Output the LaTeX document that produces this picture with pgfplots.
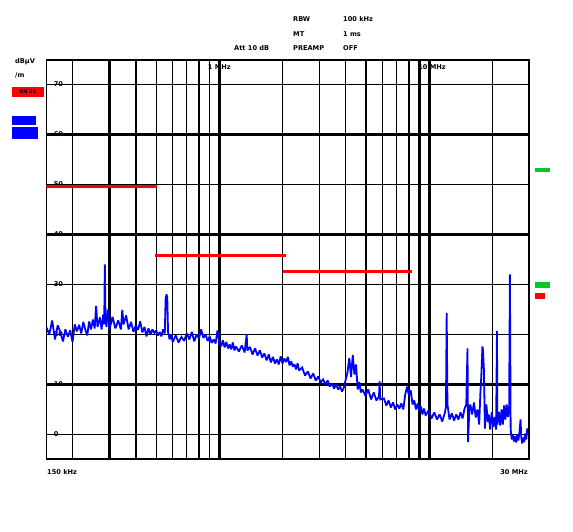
\documentclass[border=0pt]{standalone}
\usepackage{pgfplots}
\pgfplotsset{compat=1.18}
\usepackage{fontspec}
\setmainfont{DejaVu Sans}
\definecolor{trblue}{RGB}{0,0,255}
\definecolor{limred}{RGB}{255,0,0}
\definecolor{mkgreen}{RGB}{0,200,40}
\newcommand{\sm}{\fontsize{6.6}{6.6}\selectfont\bfseries}
\begin{document}
\begin{tikzpicture}
\path[use as bounding box] (-46.3pt,-72.5pt) rectangle (526.7pt,459.5pt);
\begin{axis}[
  at={(0pt,0pt)}, anchor=south west,
  scale only axis, width=483.2pt, height=400.2pt,
  xmode=log, xmin=0.15, xmax=30, ymin=-5, ymax=75,
  log basis x=10,
  xtick={0.2,0.3,0.4,0.5,0.6,0.7,0.8,0.9,1,2,3,4,5,6,7,8,9,10,20},
  xticklabels={},
  ytick={0,10,20,30,40,50,60,70},
  yticklabels={0,10,20,30,40,50,60,70},
  yticklabel style={anchor=west, xshift=4pt, font=\sm},
  major tick length=0pt,
  xmajorgrids, ymajorgrids,
  major grid style={black, line width=1.1pt},
  axis line style={black, line width=1.5pt},
  clip=true,
]
% heavier grid lines
\draw[black,line width=2.4pt] (axis cs:0.15,60) -- (axis cs:30,60);
\draw[black,line width=2.6pt] (axis cs:0.15,40) -- (axis cs:30,40);
\draw[black,line width=1.8pt] (axis cs:0.15,30) -- (axis cs:30,30);
\draw[black,line width=2.6pt] (axis cs:0.15,10) -- (axis cs:30,10);
\draw[black,line width=1.5pt] (axis cs:0.15,20) -- (axis cs:30,20);
\foreach \f/\w in {0.3/2.8pt,0.4/2pt,0.8/2.6pt,1/2.8pt,5/2.6pt,8/2.6pt,9/2.4pt,10/2.8pt} {
  \edef\tmp{\noexpand\draw[black,line width=\w] (axis cs:\f,-5) -- (axis cs:\f,75);}\tmp
}
% limit lines
\addplot[limred, line width=2.8pt] coordinates {(0.15,49.6) (0.505,49.6)};
\addplot[limred, line width=2.8pt] coordinates {(0.495,35.7) (2.08,35.7)};
\addplot[limred, line width=2.8pt] coordinates {(2.0,32.6) (8.25,32.6)};
% trace
\addplot[trblue, line width=1.8pt, line join=miter, miter limit=2] coordinates {
(0.150,21.5)(0.155,20.0)(0.160,22.8)(0.165,19.0)(0.170,21.8)(0.175,20.5)(0.180,18.6)(0.185,21.0)
(0.190,19.5)(0.195,20.8)(0.200,18.5)(0.205,22.0)(0.210,20.6)(0.215,21.9)(0.220,20.2)(0.225,22.5)
(0.230,21.0)(0.235,19.8)(0.240,22.6)(0.245,21.0)(0.250,23.0)(0.255,21.2)(0.259,25.7)(0.263,21.5)
(0.270,23.4)(0.275,21.0)(0.280,24.0)(0.283,22.0)(0.285,34.0)(0.287,23.5)(0.290,21.5)(0.295,25.0)
(0.300,21.0)(0.31,23.5)(0.32,21.2)(0.33,22.8)(0.34,21.0)(0.345,24.9)(0.35,22.0)(0.36,23.8)
(0.37,21.0)(0.38,22.5)(0.39,20.5)(0.40,21.8)(0.41,20.9)(0.42,22.6)(0.43,20.4)(0.44,21.5)
(0.45,19.6)(0.46,21.2)(0.47,20.0)(0.48,21.0)(0.49,20.3)(0.50,20.8)(0.51,19.8)(0.52,20.5)
(0.53,19.6)(0.54,21.0)(0.55,20.2)(0.555,27.0)(0.56,28.0)(0.565,27.5)(0.57,20.5)(0.58,19.0)
(0.59,20.0)(0.60,18.5)(0.62,19.8)(0.64,18.4)(0.66,19.5)(0.68,18.7)(0.70,20.2)(0.72,19.0)
(0.74,20.5)(0.76,18.6)(0.78,20.0)(0.80,19.2)(0.82,21.0)(0.84,19.3)(0.86,20.0)(0.88,18.7)
(0.90,19.6)(0.92,18.3)(0.94,19.0)(0.96,18.2)(0.98,20.8)(1.00,18.5)(1.02,17.6)(1.04,18.8)
(1.06,17.4)(1.08,18.5)(1.10,17.2)(1.12,18.0)(1.14,17.0)(1.16,18.4)(1.18,16.8)(1.20,17.6)
(1.24,16.6)(1.28,17.8)(1.32,16.4)(1.35,20.0)(1.36,16.8)(1.40,17.5)(1.44,16.0)(1.48,17.2)
(1.52,15.8)(1.56,16.8)(1.60,15.4)(1.64,16.2)(1.68,14.8)(1.72,16.0)(1.76,14.4)(1.80,15.5)
(1.84,14.2)(1.88,15.0)(1.92,14.0)(1.96,15.6)(2.00,14.2)(2.04,15.2)(2.08,14.5)(2.12,15.5)
(2.16,13.8)(2.20,14.6)(2.24,13.6)(2.28,14.0)(2.32,13.0)(2.36,14.2)(2.40,12.8)(2.48,13.4)
(2.56,11.8)(2.64,12.6)(2.72,11.2)(2.80,12.2)(2.88,10.8)(2.96,11.6)(3.04,10.4)(3.12,11.0)
(3.20,10.0)(3.28,10.8)(3.36,9.6)(3.44,10.2)(3.52,9.2)(3.60,10.0)(3.68,9.0)(3.76,9.6)
(3.84,8.6)(3.92,9.4)(4.00,11.0)(4.08,12.5)(4.16,15.3)(4.24,11.5)(4.32,15.9)(4.40,12.0)
(4.48,14.0)(4.56,9.0)(4.64,10.5)(4.72,8.4)(4.80,9.0)(4.96,7.8)(5.12,9.0)(5.28,7.0)
(5.44,8.4)(5.60,6.8)(5.76,7.6)(5.80,10.6)(5.84,7.0)(6.08,7.2)(6.24,5.8)(6.40,6.8)
(6.56,5.4)(6.72,6.4)(6.88,5.0)(7.04,6.0)(7.20,5.2)(7.36,6.2)(7.52,5.0)(7.68,8.0)
(7.84,9.6)(8.00,7.8)(8.16,8.8)(8.32,6.0)(8.48,6.8)(8.64,5.0)(8.80,6.2)(8.96,4.6)
(9.12,5.6)(9.28,4.0)(9.44,5.2)(9.60,3.8)(9.92,4.8)(10.24,3.2)(10.56,4.4)(10.88,3.0)
(11.20,4.0)(11.52,2.6)(11.84,4.2)(12.00,5.5)(12.10,24.3)(12.20,6.0)(12.48,3.0)(12.80,4.2)
(13.12,2.8)(13.44,4.0)(13.76,3.0)(14.08,4.4)(14.40,3.2)(14.72,5.2)(15.00,6.0)(15.20,17.2)
(15.30,-1.5)(15.50,4.8)(15.68,6.0)(16.00,4.0)(16.32,6.4)(16.64,3.4)(16.96,5.0)(17.28,2.0)
(17.50,8.0)(17.70,12.0)(17.90,17.6)(18.00,17.0)(18.20,13.0)(18.40,1.2)(18.70,6.0)(19.00,2.5)
(19.20,4.0)(19.50,1.0)(19.84,4.5)(20.16,1.5)(20.50,3.5)(20.80,1.0)(21.00,20.7)(21.10,2.0)
(21.44,4.5)(21.76,1.8)(22.08,5.0)(22.40,2.0)(22.72,5.8)(23.04,3.0)(23.36,6.0)(23.70,3.5)
(24.00,5.5)(24.20,32.0)(24.40,1.0)(24.70,-1.0)(25.00,0.0)(25.30,-1.4)(25.60,-0.3)(25.92,-1.6)
(26.24,0.0)(26.56,-1.2)(26.88,0.5)(27.20,3.0)(27.40,-0.5)(27.70,-1.8)(28.00,-0.6)(28.32,-1.5)
(28.64,0.2)(28.96,-1.0)(29.28,1.2)(29.60,0.6)(30.00,1.0)
};
% heavier frame
\draw[black,line width=2.6pt] (rel axis cs:0,1) -- (rel axis cs:1,1);
\draw[black,line width=3pt] (rel axis cs:0,0) -- (rel axis cs:1,0);
\draw[black,line width=3pt] (rel axis cs:1,0) -- (rel axis cs:1,1);
\node[font=\sm, anchor=north, inner sep=0pt] at (axis cs:1.0,74.0) {1 MHz};
\node[font=\sm, anchor=north, inner sep=0pt] at (axis cs:10.3,74.0) {10 MHz};
\end{axis}
% header text
\node[font=\sm, anchor=west, inner sep=0pt] at (246.7pt,440.5pt) {RBW};
\node[font=\sm, anchor=west, inner sep=0pt] at (296.7pt,440.5pt) {100 kHz};
\node[font=\sm, anchor=west, inner sep=0pt] at (246.7pt,425.5pt) {MT};
\node[font=\sm, anchor=west, inner sep=0pt] at (296.7pt,425.5pt) {1 ms};
\node[font=\sm, anchor=west, inner sep=0pt] at (187.7pt,411.5pt) {Att 10 dB};
\node[font=\sm, anchor=west, inner sep=0pt] at (246.7pt,411.5pt) {PREAMP};
\node[font=\sm, anchor=west, inner sep=0pt] at (296.7pt,411.5pt) {OFF};
% left side indicators
\node[font=\sm, anchor=west, inner sep=0pt] at (-31.3pt,397.5pt) {dBµV};
\node[font=\sm, anchor=west, inner sep=0pt] at (-31.3pt,384.5pt) {/m};
\fill[limred] (-34.3pt,362.5pt) rectangle (-2.3pt,372.5pt);
\node[font=\fontsize{5}{5}\selectfont\bfseries, inner sep=0pt] at (-18.3pt,367.5pt) {EN 22};
\fill[trblue] (-34.3pt,334.5pt) rectangle (-10.3pt,343.5pt);
\fill[trblue] (-34.3pt,320.5pt) rectangle (-8.3pt,332.5pt);
% right side markers
\fill[mkgreen] (488.7pt,287.5pt) rectangle (503.7pt,291.5pt);
\fill[mkgreen] (488.7pt,171pt) rectangle (503.7pt,177.5pt);
\fill[limred] (488.7pt,160.5pt) rectangle (498.7pt,166.5pt);
% bottom labels
\node[font=\sm, anchor=west, inner sep=0pt] at (0.7pt,-12.5pt) {150 kHz};
\node[font=\sm, anchor=east, inner sep=0pt] at (481.7pt,-12.5pt) {30 MHz};
\end{tikzpicture}
\end{document}
